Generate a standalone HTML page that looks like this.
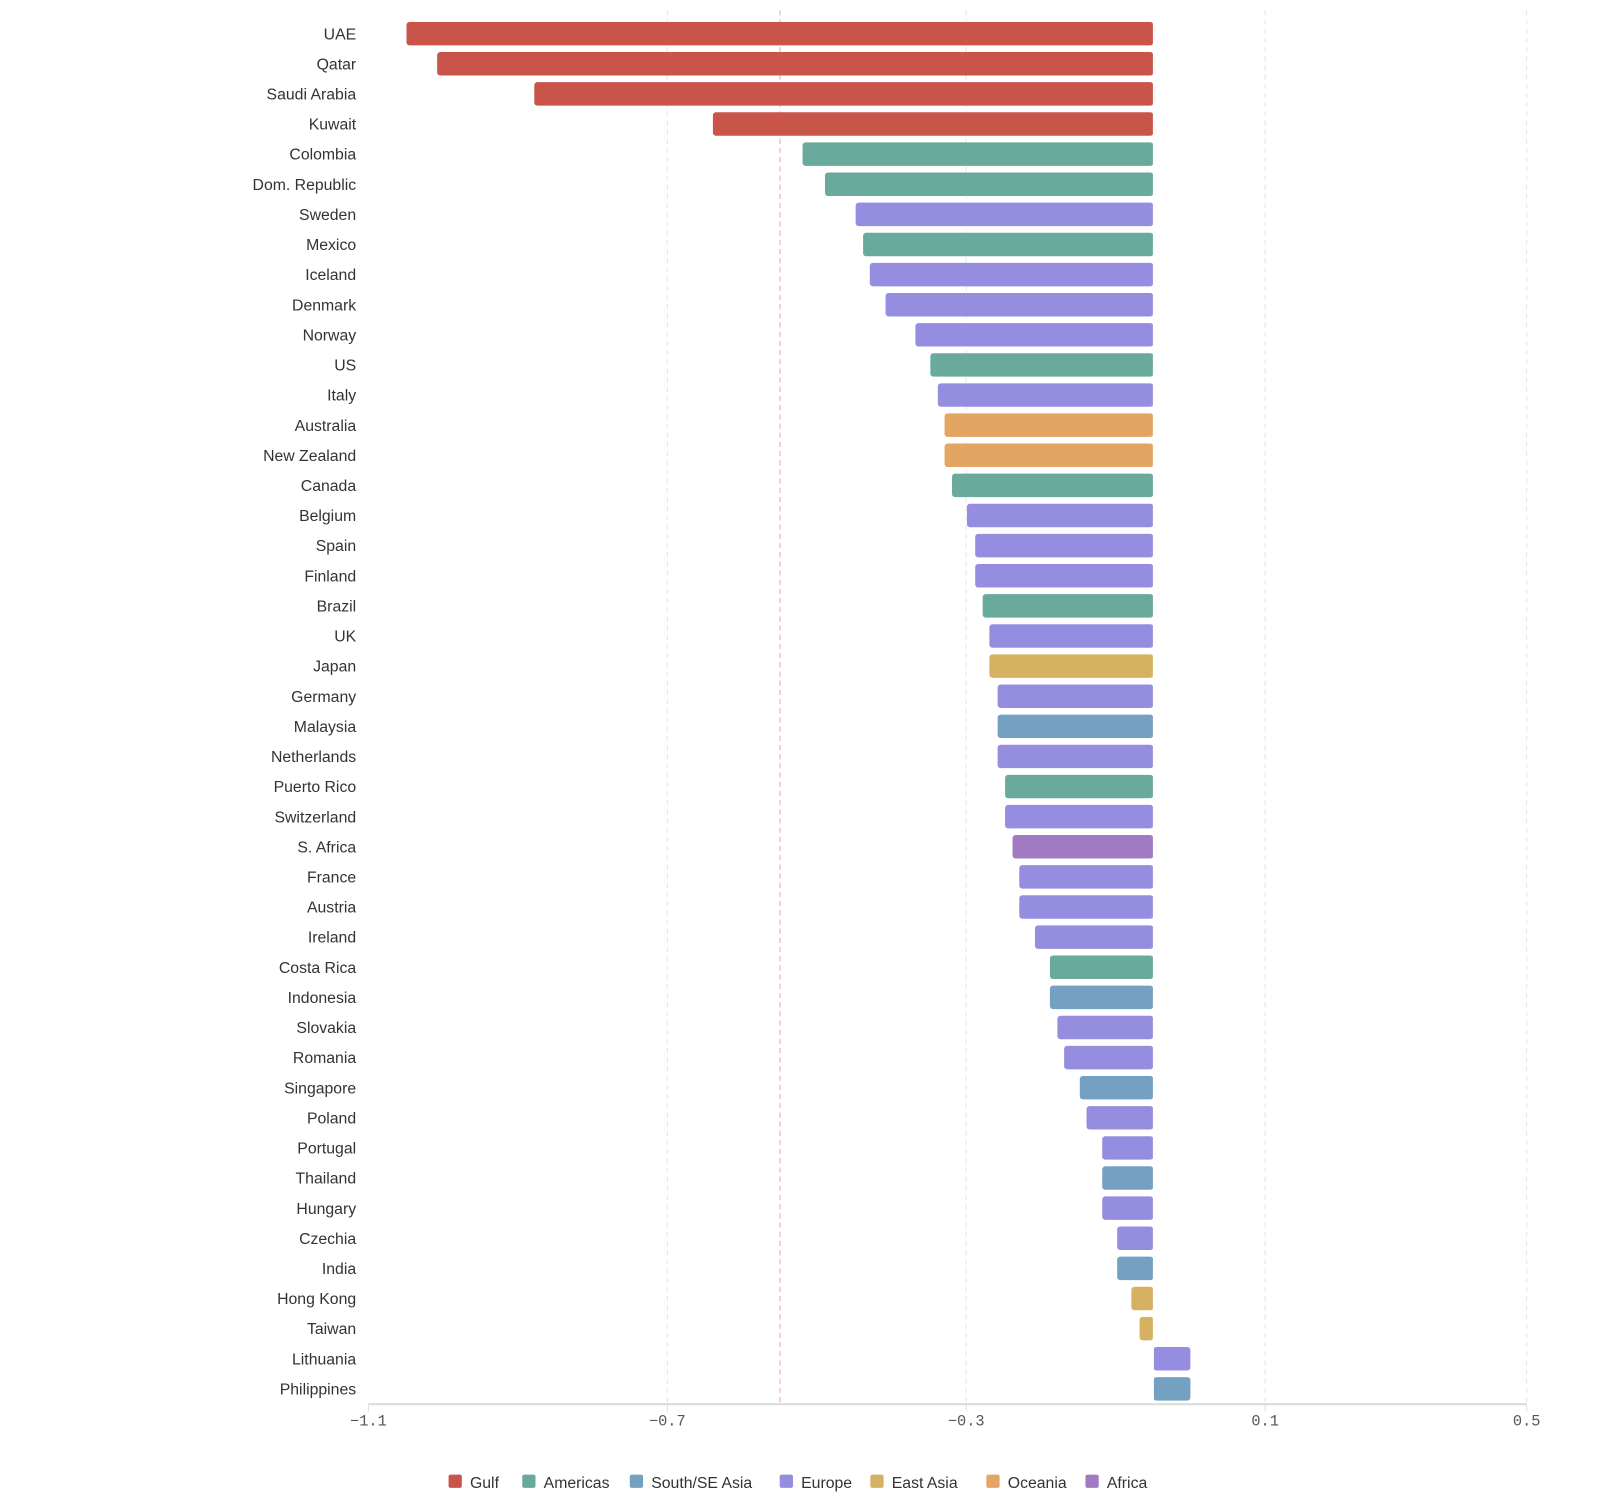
<!DOCTYPE html>
<html><head><meta charset="utf-8"><style>
html,body{margin:0;padding:0;background:#fff;width:1600px;height:1504px;overflow:hidden}
#wrap{width:1568px;height:1474px;transform:scale(1.0205);transform-origin:0 0}
text{font-family:"Liberation Sans",sans-serif}
text.mono{font-family:"Liberation Mono",monospace}
</style></head><body>
<div id="wrap">
<svg id="chart" width="1568" height="1474"></svg>
</div>
<script>
const countries=["UAE","Qatar","Saudi Arabia","Kuwait","Colombia","Dom. Republic","Sweden","Mexico","Iceland","Denmark","Norway","US","Italy","Australia","New Zealand","Canada","Belgium","Spain","Finland","Brazil","UK","Japan","Germany","Malaysia","Netherlands","Puerto Rico","Switzerland","S. Africa","France","Austria","Ireland","Costa Rica","Indonesia","Slovakia","Romania","Singapore","Poland","Portugal","Thailand","Hungary","Czechia","India","Hong Kong","Taiwan","Lithuania","Philippines"];
const values=[-1.049,-1.008,-0.878,-0.639,-0.519,-0.489,-0.448,-0.438,-0.429,-0.408,-0.368,-0.348,-0.338,-0.329,-0.329,-0.319,-0.299,-0.288,-0.288,-0.278,-0.269,-0.269,-0.258,-0.258,-0.258,-0.248,-0.248,-0.238,-0.229,-0.229,-0.208,-0.188,-0.188,-0.178,-0.169,-0.148,-0.139,-0.118,-0.118,-0.118,-0.098,-0.098,-0.079,-0.068,0.0,0.0];
const regions=["Gulf","Gulf","Gulf","Gulf","Americas","Americas","Europe","Americas","Europe","Europe","Europe","Americas","Europe","Oceania","Oceania","Americas","Europe","Europe","Europe","Americas","Europe","East Asia","Europe","South/SE Asia","Europe","Americas","Europe","Africa","Europe","Europe","Europe","Americas","South/SE Asia","Europe","Europe","South/SE Asia","Europe","Europe","South/SE Asia","Europe","Europe","South/SE Asia","East Asia","East Asia","Europe","South/SE Asia"];
const legendNames=["Gulf","Americas","South/SE Asia","Europe","East Asia","Oceania","Africa"];
const legendColors=["#c9554a","#6aaa9c","#74a0c2","#958ee0","#d4b262","#e3a562","#a07bc2"];
const tickValues=[-1.1,-0.7,-0.3,0.1,0.45];
const tickLabels=["\u22121.1","\u22120.7","\u22120.3","0.1","0.5"];
const baseline=-0.0495;
const refLine=-0.549;

const NS="http://www.w3.org/2000/svg";
const svg=document.getElementById('chart');
const x0=361,x1=1496,dMin=-1.1,dMax=0.45;
const xs=v=>x0+(v-dMin)/(dMax-dMin)*(x1-x0);
const rowStep=29.51,row0=33;
const ys=i=>row0+i*rowStep;
function mk(t,a){const e=document.createElementNS(NS,t);for(const k in a)e.setAttribute(k,a[k]);svg.appendChild(e);return e;}
tickValues.forEach((v,i)=>{
 if(i===0)return;
 const g=mk('line',{x1:xs(v),x2:xs(v),y1:10,y2:1376,stroke:'#e4e4e4','stroke-dasharray':'5,4'});
 
 
});
const rl=mk('line',{x1:xs(refLine),x2:xs(refLine),y1:10,y2:1376,stroke:'#ecc4cc','stroke-dasharray':'5,4','stroke-width':1.5});


countries.forEach((c,i)=>{
 const col=legendColors[legendNames.indexOf(regions[i])];
 const y=ys(i);
 const lab=mk('text',{x:349,y:y+5.5,'text-anchor':'end','font-size':15.5,fill:'#333'});
 lab.textContent=c;
 
 
 const a=xs(Math.min(values[i],baseline)),b=xs(Math.max(values[i],baseline));
 const r=mk('rect',{x:a,y:y-11.5,width:Math.max(b-a,0.5),height:23,rx:3,fill:col});
 
 
});
const bl=mk('line',{x1:xs(baseline),x2:xs(baseline),y1:20,y2:1376,stroke:'#ffffff','stroke-width':1});


const ax=mk('line',{x1:x0,x2:x1,y1:1376,y2:1376,stroke:'#dcdcdc','stroke-width':2});


tickValues.forEach((v,i)=>{
 const t=mk('line',{x1:xs(v),x2:xs(v),y1:1376,y2:1383,stroke:'#dcdcdc'});
 
 
 const l=mk('text',{x:xs(v),y:1397,'text-anchor':'middle','font-size':15,fill:'#555','class':'mono'});
 l.textContent=tickLabels[i];
 
 
});
const widths=legendNames.map(n=>n.length*8.3+39);
let lx=792-widths.reduce((a,b)=>a+b,0)/2+4;
legendNames.forEach((n,i)=>{
 const s=mk('rect',{x:lx,y:1445,width:13,height:13,rx:2,fill:legendColors[i]});
 
 
 const t=mk('text',{x:lx+21,y:1458,'font-size':15.5,fill:'#333'});
 t.textContent=n;
 
 
 lx+=widths[i];
});
</script>
</body></html>
